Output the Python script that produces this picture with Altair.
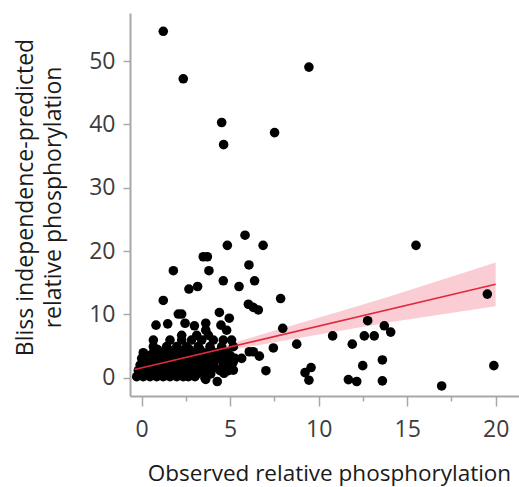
import altair as alt
import pandas as pd

# Observed vs. Bliss-predicted relative phosphorylation (one point per measurement)
obs = [
    # dense cluster near the origin
    -0.28, 0.09, 0.47, 0.85, 1.22, 1.60, 1.98, 2.35, 2.64, 3.01,
    -0.10, 0.30, 0.70, 1.10, 1.50, 1.90, 2.30, 2.70, 3.10, 3.50, 3.90,
    -0.19, 0.28, 0.66, 1.13, 1.51, 1.88, 2.26, 2.82, 3.30, 3.86, 4.43, 4.90,
    0.10, 0.50, 0.95, 1.40, 1.85, 2.30, 2.75, 3.20, 3.65, 4.10, 4.55,
    -0.09, 0.38, 0.85, 1.32, 1.79, 2.35, 2.92, 3.48, 4.05, 4.61, 5.08,
    0.20, 0.65, 1.10, 1.55, 2.05, 2.60, 3.10, 3.60, 4.10, 4.60,
    0.00, 0.56, 1.04, 1.60, 2.07, 2.64, 3.20, 3.77, 4.33, 4.80, 5.27,
    0.35, 0.85, 1.35, 1.90, 2.40, 2.90, 3.40, 3.95, 4.50, 5.00,
    0.09, 0.66, 1.22, 1.79, 2.45, 3.01, 3.67, 4.24, 4.80,
    0.90, 1.50, 2.10, 2.70, 3.30, 3.90, 4.50,
    0.66, 1.41, 1.98, 2.54, 3.20, 3.86, 4.52, 5.18,
    0.66, 1.60, 2.26, 2.82, 3.39, 4.05, 4.61,
    2.26, 3.11, 3.77,
    3.62, 4.27, 4.65, 5.18, 5.18, 3.58,
    # scattered points
    1.22, 2.35, 9.45, 4.52, 4.63, 7.51,
    5.84, 4.84, 6.86, 15.5, 1.79, 3.48, 3.71, 6.06, 3.80, 4.61, 6.38, 5.50,
    2.67, 3.16, 1.22, 7.85, 6.03, 6.31, 6.59, 19.53, 4.39, 2.07, 2.26, 4.95,
    0.81, 1.47, 2.45, 2.98, 3.62, 3.62, 4.48, 4.80, 7.97, 12.77, 13.71, 14.07,
    10.79, 12.58, 13.14, 8.76, 11.90, 7.44, 6.08, 6.31, 6.65, 5.65, 13.60,
    12.49, 19.90, 7.02, 9.23, 9.57, 9.45, 11.68, 12.15, 13.60, 16.95, 5.08,
]
pred = [
    0.16, 0.16, 0.16, 0.16, 0.16, 0.16, 0.16, 0.16, 0.16, 0.16,
    0.6, 0.6, 0.6, 0.6, 0.6, 0.6, 0.6, 0.6, 0.6, 0.6, 0.6,
    1.1, 1.1, 1.1, 1.1, 1.1, 1.1, 1.1, 1.1, 1.1, 1.1, 1.1, 1.1,
    1.55, 1.55, 1.55, 1.55, 1.55, 1.55, 1.55, 1.55, 1.55, 1.55, 1.55,
    2.0, 2.0, 2.0, 2.0, 2.0, 2.0, 2.0, 2.0, 2.0, 2.0, 2.0,
    2.5, 2.5, 2.5, 2.5, 2.5, 2.5, 2.5, 2.5, 2.5, 2.5,
    3.05, 3.05, 3.05, 3.05, 3.05, 3.05, 3.05, 3.05, 3.05, 3.05, 3.05,
    3.5, 3.5, 3.5, 3.5, 3.5, 3.5, 3.5, 3.5, 3.5, 3.5,
    3.95, 3.95, 3.95, 3.95, 3.95, 3.95, 3.95, 3.95, 3.95,
    4.45, 4.45, 4.45, 4.45, 4.45, 4.45, 4.45,
    4.9, 4.9, 4.9, 4.9, 4.9, 4.9, 4.9, 4.9,
    5.95, 5.95, 5.95, 5.95, 5.95, 5.95, 5.95,
    6.7, 6.7, 6.7,
    -0.26, -0.6, 0.7, 1.2, 2.5, -0.1,
    54.7, 47.2, 49.05, 40.3, 36.8, 38.7,
    22.5, 20.9, 20.9, 20.9, 16.9, 19.1, 19.1, 17.8, 16.9, 15.3, 15.3, 14.4,
    14.0, 14.4, 12.2, 12.5, 11.6, 11.1, 10.7, 13.2, 10.3, 10.05, 10.05, 9.4,
    8.3, 8.5, 8.6, 8.2, 8.6, 7.5, 8.3, 7.5, 7.8, 9.0, 8.2, 7.2,
    6.6, 6.6, 6.6, 5.3, 5.3, 4.7, 4.1, 4.1, 3.4, 3.05, 2.8,
    1.9, 1.9, 1.1, 0.8, 1.6, -0.4, -0.3, -0.6, -0.5, -1.3, 5.95,
]

# Fitted line and its confidence band
fit_x = [-0.4, 20.0]
fit_y = [1.29, 14.75]
band_x = [-0.4, 2.0, 5.0, 8.0, 11.0, 14.0, 17.0, 20.0]
band_lo = [0.74, 2.45, 4.35, 5.83, 7.31, 8.74, 10.02, 11.30]
band_hi = [1.84, 3.29, 5.35, 7.83, 10.31, 12.84, 15.52, 18.20]

x_ticks = [0, 2.5, 5, 7.5, 10, 12.5, 15, 17.5, 20]
y_ticks = [0, 5, 10, 15, 20, 25, 30, 35, 40, 45, 50, 55]

FONT = "Open Sans"
AXIS_GRAY = "#a8a8a8"

points = pd.DataFrame({"obs": obs, "pred": pred})
fit = pd.DataFrame({"obs": fit_x, "pred": fit_y})
band = pd.DataFrame({"obs": band_x, "lo": band_lo, "hi": band_hi})

x_scale = alt.Scale(domain=[-0.66, 21.32], nice=False, zero=False)
y_scale = alt.Scale(domain=[-2.89, 57.59], nice=False, zero=False)

x_axis = alt.Axis(
    values=x_ticks,
    labelExpr="datum.value % 5 === 0 ? datum.label : ''",
    grid=False,
    tickSize={"condition": {"test": "datum.value % 5 === 0", "value": 10}, "value": 5},
    labelPadding=12,
    labelFontSize=23,
    labelColor="#3c3c3c",
    labelFont=FONT,
    title="Observed relative phosphorylation",
    titleFont=FONT,
    titleFontSize=22.5,
    titleFontWeight="normal",
    titleColor="#1a1a1a",
    titleX=199,
    titleY=84,
    titleBaseline="alphabetic",
    titleAlign="center",
)

y_axis = alt.Axis(
    values=y_ticks,
    labelExpr="datum.value % 10 === 0 ? datum.label : ''",
    grid=False,
    tickSize={"condition": {"test": "datum.value % 10 === 0", "value": 7}, "value": 4},
    labelPadding=8,
    labelFontSize=23,
    labelColor="#3c3c3c",
    labelFont=FONT,
    title=["Bliss independence-predicted", "relative phosphorylation"],
    titleFont=FONT,
    titleFontSize=23,
    titleFontWeight="normal",
    titleColor="#1a1a1a",
    titleLineHeight=28,
    titleAngle=270,
    titleX=-105,
    titleY=184,
    titleBaseline="middle",
    titleAlign="center",
)

band_layer = alt.Chart(band).mark_area(color="#f9c8cf", opacity=0.9).encode(
    x=alt.X("obs:Q", scale=x_scale, axis=x_axis),
    y=alt.Y("lo:Q", scale=y_scale, axis=y_axis),
    y2="hi:Q",
)

point_layer = alt.Chart(points).mark_circle(color="black", opacity=1, size=92).encode(
    x=alt.X("obs:Q", scale=x_scale),
    y=alt.Y("pred:Q", scale=y_scale),
)

line_layer = alt.Chart(fit).mark_line(color="#e02a3c", strokeWidth=1.6).encode(
    x=alt.X("obs:Q", scale=x_scale),
    y=alt.Y("pred:Q", scale=y_scale),
)

chart = (
    alt.layer(band_layer, point_layer, line_layer)
    .properties(
        width=389,
        height=383,
        autosize=alt.AutoSizeParams(type="none"),
        padding={"left": 130, "top": 13, "right": 0, "bottom": 91},
        background="white",
    )
    .configure_view(stroke=None)
    .configure_axis(
        domainColor=AXIS_GRAY,
        domainWidth=2,
        tickColor=AXIS_GRAY,
        tickWidth=1.5,
    )
)

chart.save("out.html", embed_options={"renderer": "svg", "actions": False})
